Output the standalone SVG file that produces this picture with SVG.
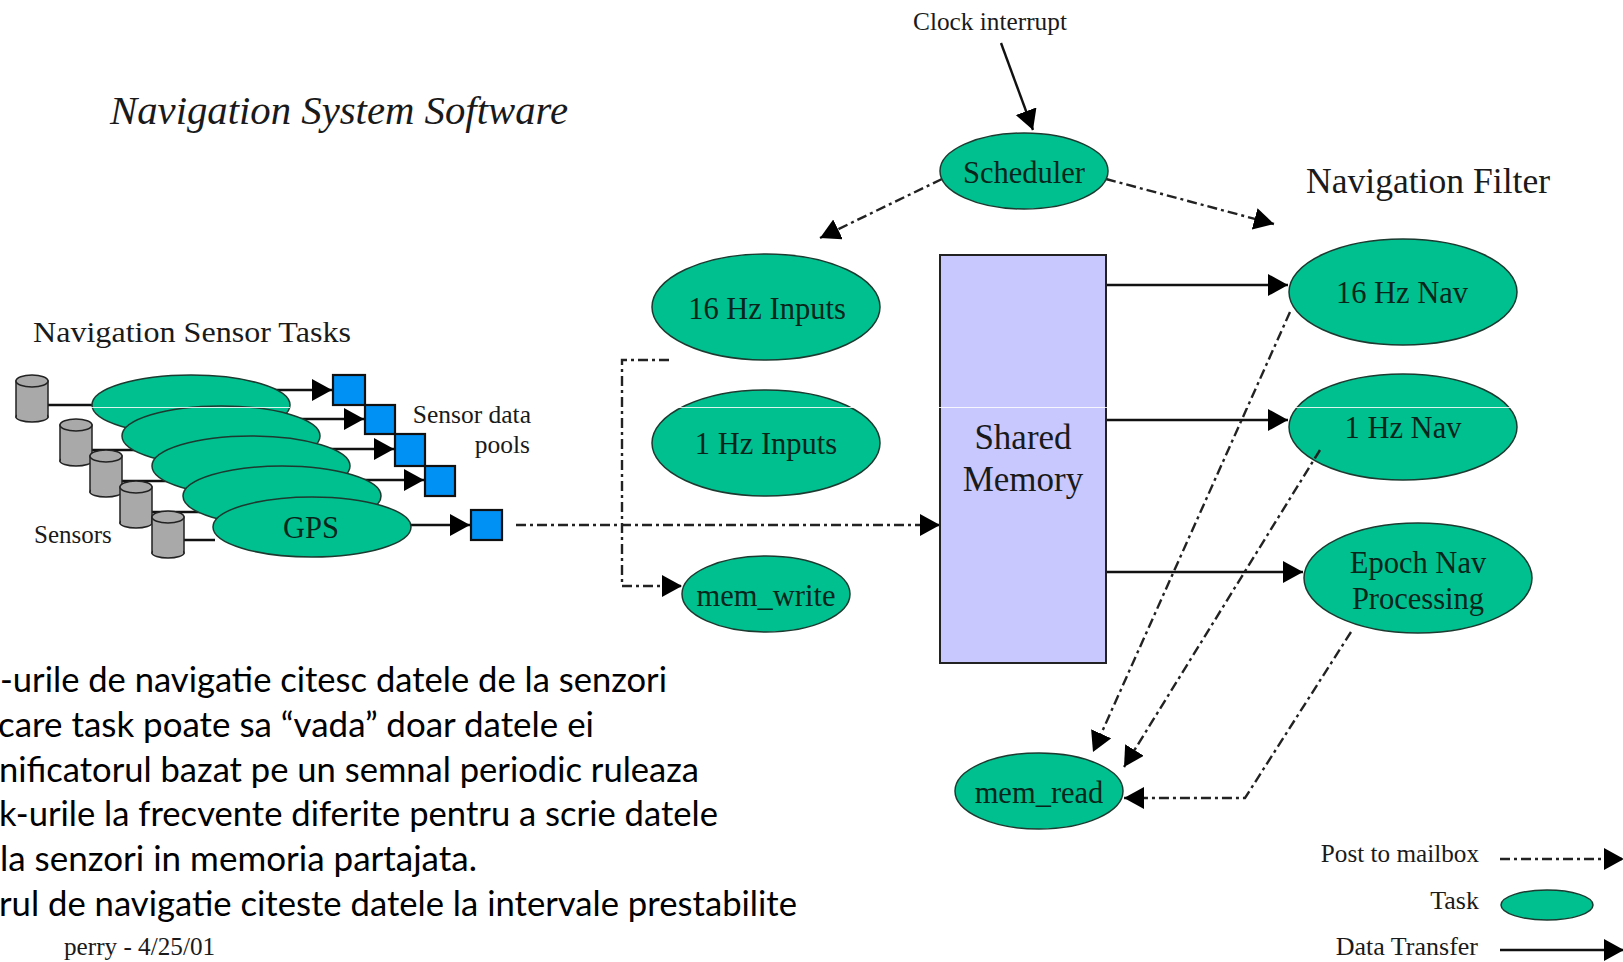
<svg xmlns="http://www.w3.org/2000/svg" width="1623" height="962" viewBox="0 0 1623 962">
<style>
text{font-family:"Liberation Serif",serif;fill:#1a1a1a}
.n{fill:#00c08f;stroke:#1c3a30;stroke-width:1.5}
.t{fill:#06261c;text-anchor:middle;font-size:30.5px}
.l{font-size:26px}
.d{fill:none;stroke:#111;stroke-width:2.4}
.m{fill:none;stroke:#222;stroke-width:2.4;stroke-dasharray:10 4 3 4}
.p{fill:#0091f5;stroke:#111;stroke-width:2.2}
.c{fill:#a9a9a9;stroke:#222;stroke-width:1.5}
.b{font-family:"Lato","Liberation Sans",sans-serif;font-size:34px;fill:#000}
</style>
<defs>
<marker id="a" markerUnits="userSpaceOnUse" markerWidth="22" markerHeight="24" refX="20" refY="11" orient="auto"><path d="M0 0L20 11L0 22Z" fill="#000"/></marker>
<g id="cyl"><rect class="c" x="-16" y="-16" width="32" height="36"/><ellipse class="c" cx="0" cy="20" rx="16" ry="5"/><rect x="-15" y="8" width="30" height="12" fill="#a9a9a9"/><ellipse class="c" cx="0" cy="-16" rx="16" ry="6" fill="#c4c4c4"/></g>
</defs>
<rect width="1623" height="962" fill="#fff"/>
<g id="connectors">
<path class="d" d="M1001 43L1033 130" marker-end="url(#a)"/>
<path class="m" d="M942 179L820 238" marker-end="url(#a)"/>
<path class="m" d="M1106 179L1274 224" marker-end="url(#a)"/>
<path class="d" d="M1106 285H1288" marker-end="url(#a)"/>
<path class="d" d="M1106 420H1288" marker-end="url(#a)"/>
<path class="d" d="M1106 572H1303" marker-end="url(#a)"/>
<path class="m" d="M1290 312L1093 752" marker-end="url(#a)"/>
<path class="m" d="M1351 632L1245 798H1124" marker-end="url(#a)"/>
<path class="m" d="M516 525H940" marker-end="url(#a)"/>
<path class="m" d="M669 360H622V586H682" marker-end="url(#a)"/>
<path class="d" d="M45 405H95"/>
<path class="d" d="M88 450H150"/>
<path class="d" d="M118 481H170"/>
<path class="d" d="M148 512H200"/>
<path class="d" d="M178 540H215"/>
<path class="d" d="M270 390H332" marker-end="url(#a)"/>
<path class="d" d="M295 419H364" marker-end="url(#a)"/>
<path class="d" d="M325 449H394" marker-end="url(#a)"/>
<path class="d" d="M355 480H424" marker-end="url(#a)"/>
<path class="d" d="M405 525H470" marker-end="url(#a)"/>
<path class="m" d="M1500 859H1624" marker-end="url(#a)"/>
<path class="d" d="M1500 950H1624" marker-end="url(#a)"/>
</g>
<g id="title"><text x="110" y="124" font-size="39" font-style="italic" textLength="458" lengthAdjust="spacingAndGlyphs">Navigation System Software</text></g>
<g id="sensor-tasks-label"><text x="33" y="342" font-size="30" textLength="318" lengthAdjust="spacingAndGlyphs">Navigation Sensor Tasks</text></g>
<g id="sensor-pool-label"><text x="531" y="423" font-size="25.5" text-anchor="end">Sensor data</text><text x="530" y="453" font-size="25.5" text-anchor="end">pools</text></g>
<g id="sensors-label"><text x="34" y="543" font-size="25">Sensors</text></g>
<g id="sensors">
<use href="#cyl" x="32" y="397"/><use href="#cyl" x="76" y="441"/><use href="#cyl" x="106" y="472"/><use href="#cyl" x="136" y="503"/><use href="#cyl" x="168" y="533"/>
</g>
<g id="sensor-tasks">
<ellipse class="n" cx="191" cy="405" rx="99" ry="30"/>
<ellipse class="n" cx="221" cy="436" rx="99" ry="30"/>
<ellipse class="n" cx="251" cy="466" rx="99" ry="30"/>
<ellipse class="n" cx="282" cy="496" rx="99" ry="30"/>
</g>
<g id="gps"><ellipse class="n" cx="312" cy="527" rx="99" ry="30"/><text class="t" x="311" y="538">GPS</text></g>
<g id="pools">
<rect class="p" x="333" y="375" width="32" height="30"/><rect class="p" x="365" y="405" width="30" height="29"/><rect class="p" x="395" y="434" width="30" height="32"/><rect class="p" x="425" y="466" width="30" height="30"/><rect class="p" x="471" y="510" width="31" height="30"/>
</g>
<g id="clock"><text x="990" y="30" font-size="25.3" text-anchor="middle">Clock interrupt</text></g>
<g id="scheduler"><ellipse class="n" cx="1024" cy="171" rx="84" ry="38"/><text class="t" x="1024" y="183">Scheduler</text></g>
<g id="nav-filter"><text x="1306" y="193" font-size="35.6">Navigation Filter</text></g>
<g id="inputs16"><ellipse class="n" cx="766" cy="307" rx="114" ry="53"/><text class="t" x="767" y="319">16 Hz Inputs</text></g>
<g id="inputs1"><ellipse class="n" cx="766" cy="443" rx="114" ry="53"/><text class="t" x="766" y="454">1 Hz Inputs</text></g>
<g id="mem-write"><ellipse class="n" cx="766" cy="594" rx="84" ry="38"/><text class="t" x="766" y="606">mem_write</text></g>
<g id="shared"><rect x="940" y="255" width="166" height="408" fill="#c8c8ff" stroke="#222" stroke-width="2"/><text x="1023" y="449" font-size="35" text-anchor="middle">Shared</text><text x="1023" y="491" font-size="35" text-anchor="middle">Memory</text></g>
<g id="nav16"><ellipse class="n" cx="1403" cy="292" rx="114" ry="53"/><text class="t" x="1402" y="303">16 Hz Nav</text></g>
<g id="nav1"><ellipse class="n" cx="1403" cy="427" rx="114" ry="53"/><text class="t" x="1403" y="438">1 Hz Nav</text></g>
<g id="epoch"><ellipse class="n" cx="1418" cy="578" rx="114" ry="55"/><text class="t" x="1418" y="573">Epoch Nav</text><text class="t" x="1418" y="609">Processing</text></g>
<g id="mem-read"><ellipse class="n" cx="1039" cy="791" rx="84" ry="38"/><text class="t" x="1039" y="803">mem_read</text></g>
<g id="connectors-top"><path class="m" d="M1320 450L1124 767" marker-end="url(#a)"/></g>
<g id="legend"><text x="1479" y="862" font-size="25.2" text-anchor="end">Post to mailbox</text><text x="1479" y="909" class="l" text-anchor="end">Task</text><ellipse class="n" cx="1547" cy="905" rx="46" ry="15"/><text x="1478" y="955" class="l" text-anchor="end">Data Transfer</text></g>
<g id="caption">
<text class="b" x="0" y="692" textLength="667" lengthAdjust="spacingAndGlyphs">-urile de navigatie citesc datele de la senzori</text>
<text class="b" x="-2" y="737" textLength="596" lengthAdjust="spacingAndGlyphs">care task poate sa “vada” doar datele ei</text>
<text class="b" x="-1" y="782" textLength="700" lengthAdjust="spacingAndGlyphs">nificatorul bazat pe un semnal periodic ruleaza</text>
<text class="b" x="-1" y="826" textLength="719" lengthAdjust="spacingAndGlyphs">k-urile la frecvente diferite pentru a scrie datele</text>
<text class="b" x="0" y="871" textLength="477" lengthAdjust="spacingAndGlyphs">la senzori in memoria partajata.</text>
<text class="b" x="-1" y="916" textLength="798" lengthAdjust="spacingAndGlyphs">rul de navigatie citeste datele la intervale prestabilite</text>
<text x="64" y="955" font-size="25.2">perry - 4/25/01</text>
</g>
<path id="scan-line" d="M90 407.5H290M660 407.5H1623" stroke="#fff" stroke-width="1" opacity=".85"/>
</svg>
